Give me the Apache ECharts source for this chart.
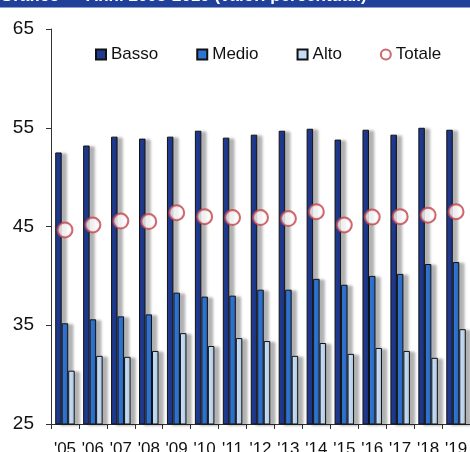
<!DOCTYPE html>
<html>
<head>
<meta charset="utf-8">
<script src="https://cdn.jsdelivr.net/npm/echarts@6/dist/echarts.min.js"></script>
<style>
  html, body { margin: 0; padding: 0; background: #ffffff; }
  #chart { width: 470px; height: 452px; }
</style>
</head>
<body>
<div id="chart"></div>
<script>
    var anni = ["'05", "'06", "'07", "'08", "'09", "'10", "'11", "'12", "'13", "'14", "'15", "'16", "'17", "'18", "'19"];
    var basso = [52.5, 53.2, 54.1, 53.9, 54.1, 54.7, 54.0, 54.3, 54.7, 54.9, 53.8, 54.8, 54.3, 55.0, 54.8];
    var medio = [35.2, 35.6, 35.9, 36.1, 38.3, 37.9, 38.0, 38.6, 38.6, 39.7, 39.1, 40.0, 40.2, 41.2, 41.4];
    var alto = [30.4, 31.9, 31.8, 32.4, 34.2, 32.9, 33.7, 33.4, 31.9, 33.2, 32.1, 32.7, 32.4, 31.7, 34.6];
    var totale = [44.65, 45.15, 45.55, 45.5, 46.4, 46.0, 45.9, 45.9, 45.8, 46.5, 45.15, 45.95, 46.0, 46.15, 46.5];
    var yTicks = [25, 35, 45, 55, 65];

    //柱子样式
    function barStyle(color) {
        return {
            color: color,
            borderColor: '#111111',
            borderWidth: 1,
            shadowColor: 'rgba(0,0,0,0.3)',
            shadowBlur: 3,
            shadowOffsetX: 5,
            shadowOffsetY: 1
        };
    }

    var chart = echarts.init(document.getElementById('chart'));
    chart.setOption({
        animation: false,
        graphic: [
            {
                type: 'rect',
                shape: { x: 0, y: 0, width: 470, height: 7.5 },
                style: { fill: '#21409a' }
            },
            {
                type: 'text',
                left: 0,
                top: -12,
                style: {
                    text: 'Grafico — Anni 2005-2019 (valori percentuali)',
                    fill: '#ffffff',
                    font: 'bold 17px "Liberation Sans", Arial, sans-serif'
                }
            }
        ],
        grid: { left: 51, right: 0, top: 29, bottom: 28, outerBoundsMode: 'none', containLabel: false },
        legend: {
            left: 90,
            top: 41,
            itemGap: 38,
            itemWidth: 10,
            itemHeight: 10,
            textStyle: { color: '#111111', fontSize: 17, fontFamily: '"Liberation Sans", Arial, sans-serif' },
            itemStyle: { shadowBlur: 0, shadowOffsetX: 0, shadowOffsetY: 0 },
            data: [
                { name: 'Basso', icon: 'rect' },
                { name: 'Medio', icon: 'rect' },
                { name: 'Alto', icon: 'rect' },
                { name: 'Totale', icon: 'circle' }
            ]
        },
        xAxis: {
            type: 'category',
            data: anni,
            axisLine: { lineStyle: { color: '#333333', width: 1 } },
            axisTick: { show: true, interval: 0, length: 5, lineStyle: { color: '#333333' } },
            axisLabel: {
                interval: 0,
                color: '#111111',
                fontSize: 17,
                margin: 17,
                fontFamily: '"Liberation Sans", Arial, sans-serif'
            },
            splitLine: { show: false }
        },
        yAxis: {
            type: 'value',
            min: yTicks[0],
            max: yTicks[yTicks.length - 1],
            interval: 10,
            axisLine: { show: true, lineStyle: { color: '#333333', width: 1 } },
            axisTick: { show: true, length: 5, lineStyle: { color: '#333333' } },
            axisLabel: {
                color: '#111111',
                fontSize: 19,
                margin: 17,
                fontFamily: '"Liberation Sans", Arial, sans-serif'
            },
            splitLine: { show: false }
        },
        series: [
            {
                name: 'Basso',
                type: 'bar',
                barWidth: 6.5,
                barGap: '0%',
                itemStyle: barStyle('#1f3a8f'),
                data: basso
            },
            {
                name: 'Medio',
                type: 'bar',
                barWidth: 6.5,
                barGap: '0%',
                itemStyle: barStyle('#2f74d3'),
                data: medio
            },
            {
                name: 'Alto',
                type: 'bar',
                barWidth: 6.5,
                barGap: '0%',
                itemStyle: barStyle('#c4dcf6'),
                data: alto
            },
            {
                name: 'Totale',
                type: 'scatter',
                symbol: 'circle',
                symbolSize: 15,
                z: 5,
                itemStyle: {
                    color: new echarts.graphic.RadialGradient(0.5, 0.5, 0.5, [
                        { offset: 0, color: '#ffffff' },
                        { offset: 0.55, color: '#ffffff' },
                        { offset: 1, color: '#efc2c6' }
                    ]),
                    borderColor: '#c0474f',
                    borderWidth: 2
                },
                data: totale
            }
        ]
    });
</script>
</body>
</html>
